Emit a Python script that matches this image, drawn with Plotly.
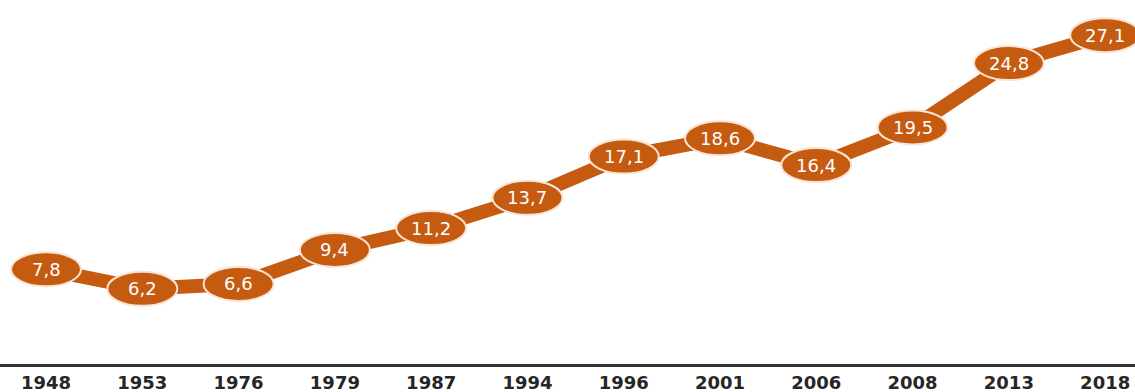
import plotly.graph_objects as go

years = ["1948", "1953", "1976", "1979", "1987", "1994", "1996", "2001", "2006", "2008", "2013", "2018"]
values = [7.8, 6.2, 6.6, 9.4, 11.2, 13.7, 17.1, 18.6, 16.4, 19.5, 24.8, 27.1]
labels = ["7,8", "6,2", "6,6", "9,4", "11,2", "13,7", "17,1", "18,6", "16,4", "19,5", "24,8", "27,1"]

ORANGE = "#C55A11"
xs = list(range(len(years)))

fig = go.Figure()
fig.add_trace(go.Scatter(
    x=xs, y=values, mode="lines",
    line=dict(color=ORANGE, width=14),
    hoverinfo="skip", showlegend=False,
))

shapes = []
annotations = []
for x, v, t in zip(xs, values, labels):
    shapes.append(dict(
        type="circle", layer="above",
        xref="x", yref="y", xsizemode="pixel", ysizemode="pixel",
        xanchor=x, yanchor=v,
        x0=-35, x1=35, y0=-17, y1=17,
        fillcolor=ORANGE, line=dict(color="#FBE3D2", width=2),
    ))
    annotations.append(dict(
        x=x, y=v, xref="x", yref="y", text=t, showarrow=False,
        font=dict(family="DejaVu Sans", size=18, color="white"),
        xanchor="center", yanchor="middle",
    ))

fig.update_layout(
    width=1135, height=392,
    margin=dict(l=0, r=0, t=0, b=28),
    paper_bgcolor="white", plot_bgcolor="white",
    shapes=shapes, annotations=annotations,
    xaxis=dict(
        range=[-0.478, 11.31], tickmode="array", tickvals=xs, ticktext=years,
        showgrid=False, zeroline=False, showline=True,
        linecolor="#333333", linewidth=3, ticks="",
        tickfont=dict(family="DejaVu Sans", size=18, color="#262626", weight="bold"),
    ),
    yaxis=dict(range=[0, 30], visible=False, showgrid=False, zeroline=False),
)

fig.write_html("out.html")
